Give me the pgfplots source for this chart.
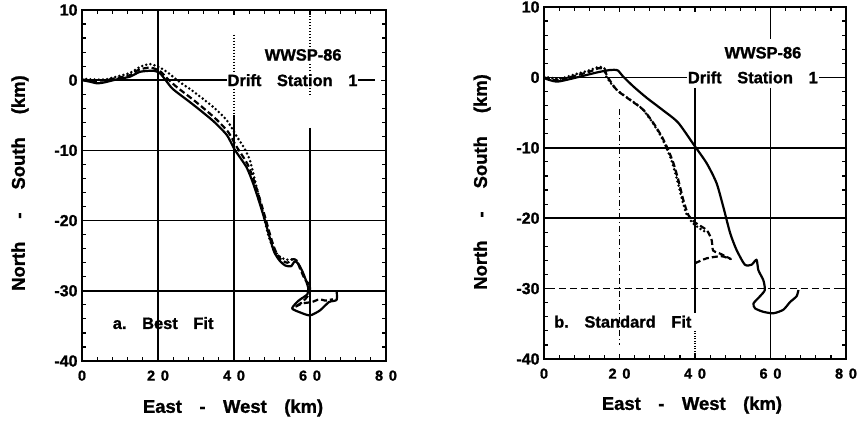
\documentclass[border=0pt]{standalone}
\usepackage{pgfplots}
\pgfplotsset{compat=1.18}
\usepackage{fontspec}
\setmainfont{Liberation Sans}[BoldFeatures={FakeBold=1.2}]

\newcommand{\gap}{\hspace{0.95em}}
\newcommand{\ygap}{\hspace{1.25em}}
\newcommand{\dg}{\hspace{0.4em}}

\tikzset{
  note/.style={font=\fontsize{16.5}{16.5}\selectfont\bfseries, inner sep=1bp},
}

\pgfplotsset{
  drift/.style={
    scale only axis, width=304bp, height=351bp,
    xmin=0, xmax=80, ymin=-40, ymax=10,
    xtick={0,20,40,60,80},
    xticklabels={0,2\dg0,4\dg0,6\dg0,8\dg0},
    ytick={-40,-30,-20,-10,0,10},
    yticklabels={-40,-30,-20,-10,0,10},
    minor x tick num=4, minor y tick num=4,
    xtick pos=both, ytick pos=both,
    tick align=inside,
    major tick length=5bp, minor tick length=4bp,
    every tick/.style={black, line width=1.2bp},
    axis line style={line width=2.4bp},
    xticklabel style={font=\fontsize{14.5}{14.5}\selectfont\bfseries, yshift=-6bp},
    yticklabel style={font=\fontsize{16}{16}\selectfont\bfseries, xshift=-1bp},
    xlabel={East\gap-\gap West\gap(km)},
    ylabel={North\ygap-\ygap South\ygap(km)},
    label style={font=\fontsize{18.5}{18.5}\selectfont\bfseries},
  },
  gridl/.style={black, line width=1.6bp, forget plot},
  track/.style={black, line width=2.2bp, line join=round, smooth, tension=0.4},
  trackdash/.style={track, dash pattern=on 6bp off 3bp},
  trackdot/.style={black, line width=2.8bp, dash pattern=on 0bp off 4.2bp, line cap=round, smooth, tension=0.4},
}

\begin{document}
\begin{tikzpicture}
\useasboundingbox (0,0) rectangle (858bp,423bp);

% ---------------- a. Best Fit ----------------
\begin{axis}[drift, at={(82bp,62bp)}, anchor=south west,
  xlabel style={at={(axis description cs:0.497,-0.134)}, anchor=center},
  ylabel style={at={(axis description cs:-0.204,0.507)}, anchor=center}]
  % reference lines
  \addplot[gridl] coordinates {(0,0) (77,0)};
  \addplot[gridl] coordinates {(0,-10) (80,-10)};
  \addplot[gridl] coordinates {(0,-20) (80,-20)};
  \addplot[gridl] coordinates {(0,-30) (80,-30)};
  \addplot[gridl] coordinates {(20,-40) (20,10)};
  \addplot[gridl, dash pattern=on 1bp off 2bp] coordinates {(40,6.5) (40,-5)};
  \addplot[gridl] coordinates {(40,-5) (40,-40)};
  \addplot[gridl, dash pattern=on 1bp off 2bp] coordinates {(60,10) (60,-2)};
  \addplot[gridl] coordinates {(60,-6.8) (60,-39.5)};
  \node[note, anchor=center, fill=white] at (axis cs:58.2,3.6) {WWSP-86};
  \node[note, anchor=west, fill=white] at (axis cs:38,0) {Drift\gap Station\gap 1};
  \node[note, anchor=west] at (axis cs:7.8,-34.6) {a.\gap Best\gap Fit};
  % drift tracks
  \addplot[track] coordinates {
    (0,0) (2,-0.2) (4,-0.45) (6,-0.3) (9,0.1) (12.6,0.5) (15.3,1.2) (18.8,1.35)
    (20.5,1.0) (22.3,-0.2) (24,-1.3) (29.3,-3.5) (34.5,-5.8) (38.1,-7.8)
    (40.2,-9.9) (43.3,-12.4) (45.1,-14.8) (46.8,-17.6) (48.2,-20.1) (49.5,-22.6)
    (50.6,-24.5) (52,-25.7) (53.5,-26.4) (55,-26.5) (56,-25.8) (57,-26.2)
    (58.3,-27.6) (59.5,-29.5) (59.3,-30.5) (57,-31.4) (55.3,-32.5) (57.5,-33.1)
    (60,-33.5) (62.6,-32.8) (65,-31.6) (67,-31.3) (67,-30)};
  \addplot[trackdash] coordinates {
    (0,0.1) (3,-0.1) (6,0) (9,0.3) (12.5,0.7) (15,1.5) (18,1.8) (20.5,1.3)
    (22.5,0.2) (25,-1) (30,-3.1) (35,-5.4) (38.5,-7.4) (40.6,-9.4) (43.6,-12)
    (45.4,-14.5) (47,-17.3) (48.4,-19.9) (49.7,-22.4) (50.9,-24.3) (52.3,-25.5)
    (54,-26) (55.5,-25.5) (56.5,-25.7) (57.5,-27) (58.8,-28.5) (60,-29.2)
    (59.7,-30.5) (58,-31.6) (56,-32.3) (58,-31.8) (60.5,-31.6) (62.5,-31.2)
    (64,-31.4) (66,-31.2)};
  \addplot[trackdot] coordinates {
    (0,0.2) (3,0.1) (6,0.1) (9,0.5) (12.5,1) (15.3,1.9) (17.9,2.3) (20.5,1.8)
    (22.3,1.2) (25.8,-0.3) (29.3,-1.6) (34.5,-3.8) (38.1,-5.7) (40.7,-8)
    (42.5,-9.5) (44.2,-11.4) (46,-15.4) (47.7,-19) (49,-22) (50.5,-24.2)
    (52.5,-25.3) (54.5,-25.6) (56,-25.4)};
\end{axis}

% ---------------- b. Standard Fit ----------------
\begin{axis}[drift, width=302bp, height=352bp, at={(544bp,64bp)}, anchor=south west,
  xlabel style={at={(axis description cs:0.49,-0.131)}, anchor=center},
  ylabel style={at={(axis description cs:-0.205,0.503)}, anchor=center}]
  % reference lines
  \addplot[gridl] coordinates {(0,0) (79.5,0)};
  \addplot[gridl] coordinates {(0,-10) (80,-10)};
  \addplot[gridl] coordinates {(0,-20) (80,-20)};
  \addplot[gridl, dash pattern=on 7bp off 4bp] coordinates {(1,-30) (80,-30)};
  \addplot[gridl, dash pattern=on 6bp off 3bp on 1bp off 3bp] coordinates {(20,-4.5) (20,-38)};
  \addplot[gridl] coordinates {(40,-1.5) (40,-33.5)};
  \addplot[gridl, dash pattern=on 1bp off 1.5bp] coordinates {(40,-36) (40,-40)};
  \addplot[gridl] coordinates {(60,10) (60,5.5)};
  \addplot[gridl] coordinates {(60,-1.5) (60,-39.5)};
  \node[note, anchor=center] at (axis cs:58,3.5) {WWSP-86};
  \node[note, anchor=west, fill=white] at (axis cs:37.8,0) {Drift\gap Station\gap 1};
  \node[note, anchor=west] at (axis cs:2.4,-34.7) {b.\gap Standard\gap Fit};
  % drift tracks
  \addplot[track] coordinates {
    (0,-0.1) (3.4,-0.6) (8.7,0) (14,0.7) (17.5,1.05) (19.5,1.0) (21,0.1)
    (23.7,-1.3) (27.2,-2.9) (31.6,-4.7) (35.5,-6.4) (39.6,-9.5) (43.1,-12.2)
    (45.7,-15) (47.5,-18.4) (49.3,-22.1) (51,-24.5) (53.2,-26.6) (55,-26.6)
    (56.3,-25.9) (56.8,-27.4) (58.1,-28.8) (58.5,-30.2) (57.2,-31.1)
    (55.5,-32.1) (55.9,-32.8) (58.1,-33.3) (60.8,-33.5) (63.4,-33) (65.2,-31.9)
    (66.9,-31.1) (67.4,-30.2)};
  \addplot[trackdash] coordinates {
    (0,0) (3.4,-0.4) (8,0.2) (12,0.8) (14.5,1.3) (16,1.2) (16.8,0.1)
    (19.3,-1.8) (22.8,-3.2) (26.3,-4.6) (29,-6.5) (31.2,-8.4) (32.9,-10.3)
    (34.3,-12.2) (35.6,-14.6) (36.9,-17.4) (38.2,-19.5) (40,-20.6) (43.1,-21.7)
    (44.4,-23.1) (44.8,-24.6) (46.5,-25) (49.5,-25.8) (47,-25.4) (43.1,-25.7)
    (40,-26.4)};
  \addplot[trackdot] coordinates {
    (0,0.1) (4,-0.2) (8,0.4) (12,1) (14.5,1.5) (16,1.3) (16.4,0.2)
    (18.9,-1.6) (22.4,-3) (25.9,-4.4) (28.6,-6.3) (30.8,-8.2) (32.5,-10.1)
    (33.9,-12) (35.2,-14.4) (36.5,-17.2) (37.8,-19.5) (39.8,-20.9) (42.6,-21.9)};
\end{axis}
\end{tikzpicture}
\end{document}
